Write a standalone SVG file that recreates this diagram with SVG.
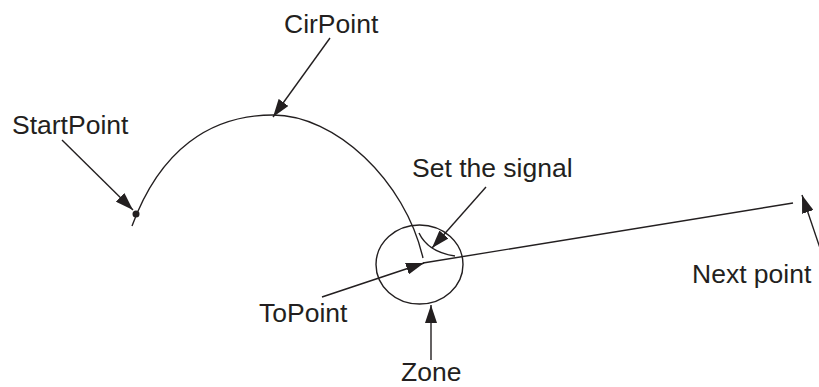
<svg xmlns="http://www.w3.org/2000/svg" width="819" height="387" viewBox="0 0 819 387">
<style>
.ln{fill:none;stroke:#231f20;stroke-width:1.4}
.ar{fill:none;stroke:#231f20;stroke-width:1.4;marker-end:url(#ah)}
.t{font-family:"Liberation Sans",Arial,sans-serif;font-size:26.5px;fill:#231f20}
</style>
<defs>
<marker id="ah" markerUnits="userSpaceOnUse" markerWidth="20" markerHeight="12" refX="18" refY="6" orient="auto">
<path d="M0,0 L18,6 L0,12 z" fill="#231f20"/>
</marker>
</defs>
<rect width="819" height="387" fill="#ffffff"/>
<g id="path">
<path class="ln" d="M132,226 C160,150 210,115 273,115 C335,115 405,180 423,258"/>
<circle cx="136" cy="214" r="3.5" fill="#231f20"/>
<path class="ln" d="M419,233 Q428,252 455,256"/>
<path class="ln" d="M423,263 L793,203"/>
</g>
<g id="zone">
<ellipse class="ln" cx="419.5" cy="264.5" rx="43.5" ry="39.5"/>
</g>
<g id="connectors">
<line class="ar" x1="330" y1="38" x2="273" y2="117"/>
<line class="ar" x1="62" y1="140" x2="133" y2="210"/>
<line class="ar" x1="486" y1="187" x2="432" y2="248"/>
<line class="ar" x1="322" y1="297" x2="424" y2="263"/>
<line class="ar" x1="431" y1="360" x2="431" y2="305"/>
<line class="ar" x1="820" y1="248" x2="802" y2="195"/>
</g>
<g id="labels">
<text class="t" x="284" y="33">CirPoint</text>
<text class="t" x="12" y="134">StartPoint</text>
<text class="t" x="412" y="177">Set the signal</text>
<text class="t" x="259" y="322">ToPoint</text>
<text class="t" x="401" y="381">Zone</text>
<text class="t" x="692" y="283">Next point</text>
</g>
</svg>
